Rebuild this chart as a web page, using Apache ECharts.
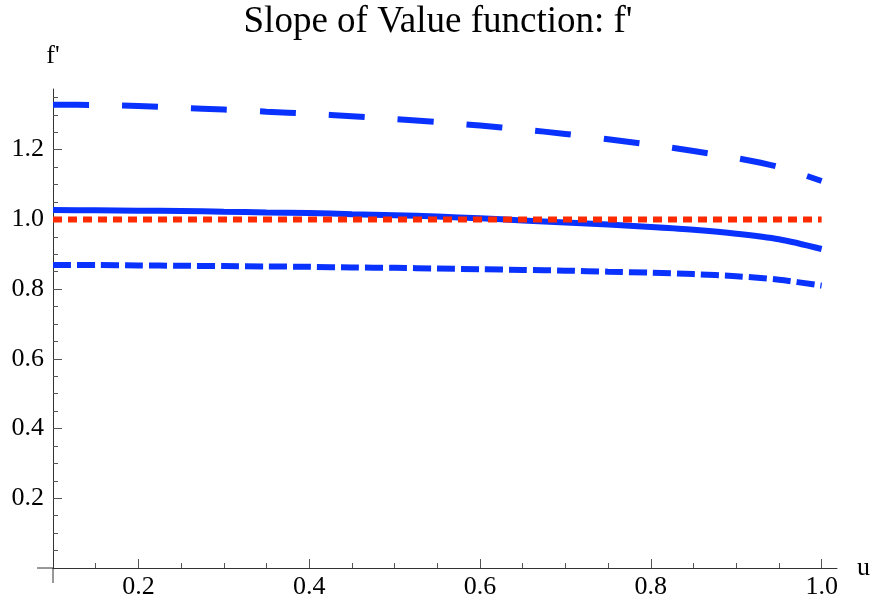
<!DOCTYPE html>
<html>
<head>
<meta charset="utf-8">
<title>Slope of Value function</title>
<script src="https://cdn.jsdelivr.net/npm/echarts@6/dist/echarts.min.js"></script>
<style>
  html, body { margin: 0; padding: 0; background: #fff; }
  #chart { width: 876px; height: 602px; }
</style>
</head>
<body>
<div id="chart"></div>
<script>
// values
var uValues   = [0.1, 0.15, 0.2, 0.25, 0.3, 0.35, 0.4, 0.45, 0.5, 0.55,
                 0.6, 0.65, 0.7, 0.75, 0.8, 0.85, 0.9, 0.95, 1.0];
var upperDash = [1.329, 1.328, 1.325, 1.320, 1.315, 1.309, 1.303, 1.296, 1.288, 1.279,
                 1.269, 1.258, 1.245, 1.230, 1.214, 1.196, 1.176, 1.150, 1.110];
var middle    = [1.027, 1.026, 1.025, 1.024, 1.022, 1.020, 1.018, 1.015, 1.012, 1.008,
                 1.003, 0.997, 0.991, 0.985, 0.978, 0.970, 0.959, 0.943, 0.915];
var lowerDash = [0.869, 0.869, 0.868, 0.867, 0.866, 0.865, 0.864, 0.862, 0.861, 0.859,
                 0.857, 0.855, 0.853, 0.850, 0.847, 0.843, 0.837, 0.827, 0.810];
var reference = [1, 1, 1, 1, 1, 1, 1, 1, 1, 1, 1, 1, 1, 1, 1, 1, 1, 1, 1];

var xMajor = [0.2, 0.4, 0.6, 0.8, 1.0];
var xMinor = [0.15, 0.25, 0.3, 0.35, 0.45, 0.5, 0.55, 0.65, 0.7, 0.75, 0.85, 0.9, 0.95];
var yMajor = [0.2, 0.4, 0.6, 0.8, 1.0, 1.2];
var yMinor = [0.05, 0.1, 0.15, 0.25, 0.3, 0.35, 0.45, 0.5, 0.55, 0.65, 0.7, 0.75,
              0.85, 0.9, 0.95, 1.05, 1.1, 1.15, 1.25, 1.3, 1.35];

function pairs(ys) {
  return uValues.map(function (u, i) { return [u, ys[i]]; });
}

var font = "'Liberation Serif', 'Times New Roman', serif";
var blue = '#0a32ff';
var red = '#ff2a00';

var chart = echarts.init(document.getElementById('chart'));

var xRange = { min: 0.1, max: 1.018 };
var yRange = { min: 0, max: 1.374 };

chart.setOption({
  animation: false,
  title: {
    text: "Slope of Value function: f'",
    left: 'center',
    top: -1,
    textStyle: { fontFamily: font, fontSize: 37, fontWeight: 'normal', color: '#000' }
  },
  grid: { left: 53, top: 89, width: 784, height: 479 },
  xAxis: [{
    type: 'value', min: xRange.min, max: xRange.max,
    name: 'u', nameLocation: 'end', nameGap: 20,
    nameTextStyle: { fontFamily: font, fontSize: 26, color: '#000', padding: [0, 0, 8, 0] },
    axisLine: { lineStyle: { color: '#333', width: 1 } },
    axisTick: { inside: true, length: 9, customValues: xMajor, lineStyle: { color: '#555' } },
    axisLabel: {
      customValues: xMajor, margin: 6,
      formatter: function (v) { return v.toFixed(1); },
      fontFamily: font, fontSize: 26, color: '#000'
    },
    splitLine: { show: false }
  }, {
    type: 'value', min: xRange.min, max: xRange.max, position: 'bottom',
    axisLine: { show: false },
    axisTick: { inside: true, length: 5, customValues: xMinor, lineStyle: { color: '#555' } },
    axisLabel: { show: false },
    splitLine: { show: false }
  }],
  yAxis: [{
    type: 'value', min: yRange.min, max: yRange.max,
    name: "f'", nameLocation: 'end', nameGap: 20,
    nameTextStyle: { fontFamily: font, fontSize: 26, color: '#000', align: 'center' },
    axisLine: { lineStyle: { color: '#333', width: 1 } },
    axisTick: { inside: true, length: 9, customValues: yMajor, lineStyle: { color: '#555' } },
    axisLabel: {
      customValues: yMajor, margin: 9,
      formatter: function (v) { return v.toFixed(1); },
      fontFamily: font, fontSize: 26, color: '#000'
    },
    splitLine: { show: false }
  }, {
    type: 'value', min: yRange.min, max: yRange.max, position: 'left',
    axisLine: { show: false },
    axisTick: { inside: true, length: 5, customValues: yMinor, lineStyle: { color: '#555' } },
    axisLabel: { show: false },
    splitLine: { show: false }
  }],
  series: [{
    name: 'upper', type: 'line', smooth: 0.3, symbol: 'none',
    data: pairs(upperDash),
    lineStyle: { color: blue, width: 6, type: [36, 33] }
  }, {
    name: 'middle', type: 'line', smooth: 0.3, symbol: 'none',
    data: pairs(middle),
    lineStyle: { color: blue, width: 6 }
  }, {
    name: 'reference', type: 'line', symbol: 'none',
    data: pairs(reference),
    lineStyle: { color: red, width: 6, type: [9, 6] }
  }, {
    name: 'lower', type: 'line', smooth: 0.3, symbol: 'none',
    data: pairs(lowerDash),
    lineStyle: { color: blue, width: 6, type: [18, 6] }
  }]
});

// Mathematica style: the axes run a little past their crossing point
var o = chart.convertToPixel({ xAxisIndex: 0, yAxisIndex: 0 }, [xRange.min, yRange.min]);
chart.setOption({
  graphic: [
    { type: 'line', shape: { x1: o[0] - 16, y1: o[1], x2: o[0], y2: o[1] },
      style: { stroke: '#333', lineWidth: 1 } },
    { type: 'line', shape: { x1: o[0], y1: o[1], x2: o[0], y2: o[1] + 15 },
      style: { stroke: '#333', lineWidth: 1 } }
  ]
});
</script>
</body>
</html>
